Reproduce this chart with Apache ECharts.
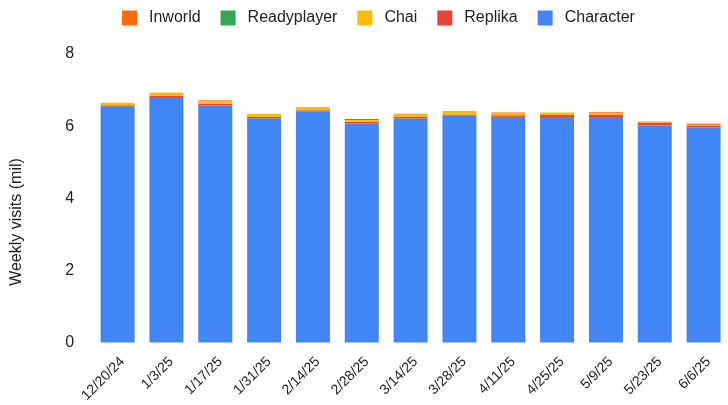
<!DOCTYPE html>
<html>
<head>
<meta charset="utf-8">
<script src="https://cdn.jsdelivr.net/npm/echarts@6/dist/echarts.min.js"></script>
<style>html,body{margin:0;padding:0;background:#fff;}#c{width:728px;height:405px;}</style>
</head>
<body>
<div id="c"></div>
<script>
const categories = ['12/20/24','1/3/25','1/17/25','1/31/25','2/14/25','2/28/25','3/14/25','3/28/25','4/11/25','4/25/25','5/9/25','5/23/25','6/6/25'];
const character   = [6.55, 6.81, 6.58, 6.22, 6.41, 6.07, 6.21, 6.29, 6.26, 6.25, 6.25, 6.02, 5.96];
const replika     = [0.03, 0.03, 0.04, 0.03, 0.03, 0.05, 0.04, 0.03, 0.04, 0.06, 0.07, 0.08, 0.04];
const chai        = [0.07, 0.09, 0.08, 0.09, 0.09, 0.05, 0.07, 0.10, 0.05, 0.07, 0.05, 0.03, 0.04];
const readyplayer = [0, 0, 0, 0, 0, 0.03, 0, 0, 0, 0, 0, 0, 0];
const inworld     = [0, 0, 0.02, 0, 0, 0, 0.02, 0, 0.03, 0, 0.02, 0, 0.03];
const yTicks = [0, 2, 4, 6, 8];

const font = 'Liberation Sans, Arial, sans-serif';
const chart = echarts.init(document.getElementById('c'), null, {renderer: 'canvas'});
function s(name, data, color) {
  return {name, type: 'bar', stack: 'total', data, barWidth: 34,
    itemStyle: {color}, emphasis: {disabled: true}};
}
chart.setOption({
  animation: false,
  textStyle: {fontFamily: font},
  legend: {
    data: ['Inworld','Readyplayer','Chai','Replika','Character'],
    left: 122, top: 10, padding: 0,
    itemWidth: 15, itemHeight: 15, itemGap: 20,
    icon: 'rect',
    textStyle: {fontSize: 16, color: '#222', fontFamily: font, padding: [0,0,0,7]}
  },
  grid: {left: 93.2, top: 54, width: 645.7, bottom: 62, containLabel: false},
  xAxis: {
    type: 'category', data: categories,
    axisLine: {show: false}, axisTick: {show: false},
    axisLabel: {rotate: 45, fontSize: 14, color: '#222', margin: 12, interval: 0,
      verticalAlign: 'top', fontFamily: font}
  },
  yAxis: {
    type: 'value', min: yTicks[0], max: yTicks[yTicks.length-1], interval: 2,
    splitLine: {show: false}, axisLine: {show: false}, axisTick: {show: false},
    axisLabel: {fontSize: 16, color: '#222', margin: 19, padding: [3,0,0,0], fontFamily: font}
  },
  graphic: [{
    type: 'text', x: 17, y: 222, rotation: Math.PI/2,
    style: {text: 'Weekly visits (mil)', font: '16px ' + font, fill: '#222',
      textAlign: 'center', textVerticalAlign: 'middle'}
  }],
  series: [
    s('Character', character, '#4285f4'),
    s('Replika', replika, '#ea4335'),
    s('Chai', chai, '#fbbc04'),
    s('Readyplayer', readyplayer, '#34a853'),
    s('Inworld', inworld, '#ff6d01')
  ]
});
</script>
</body>
</html>
